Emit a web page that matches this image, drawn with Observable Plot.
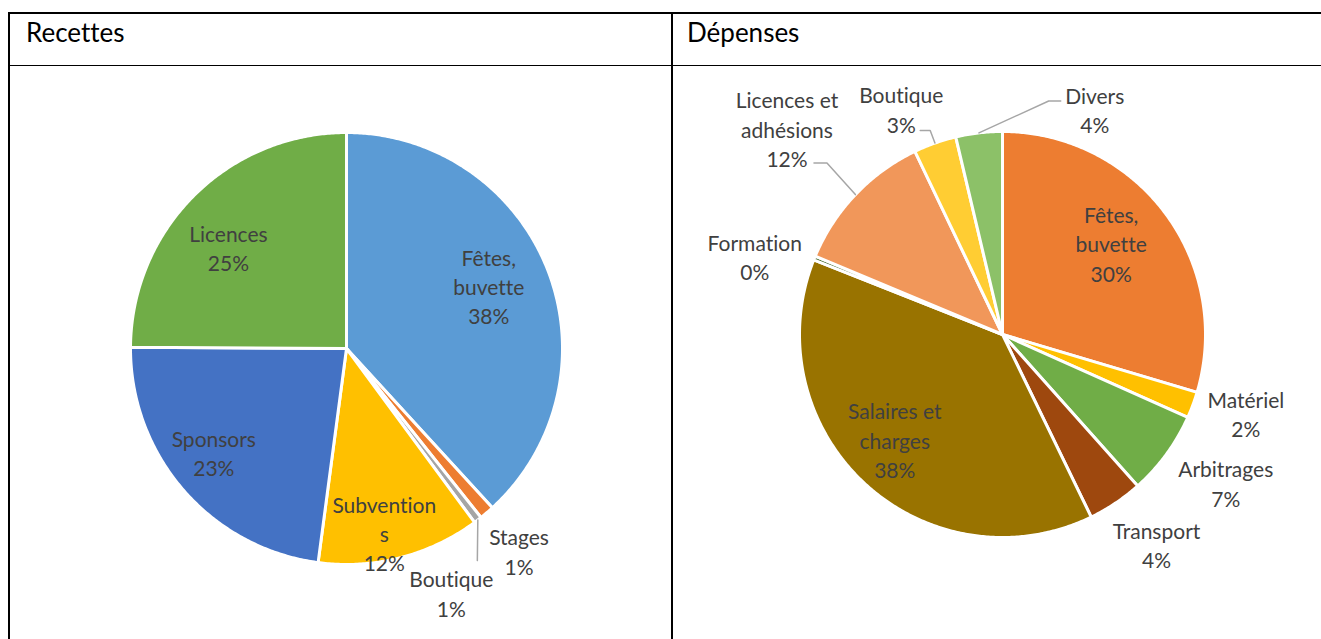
<!DOCTYPE html>
<html>
<head>
<meta charset="utf-8">
<script src="https://cdn.jsdelivr.net/npm/d3@7"></script>
<script src="https://cdn.jsdelivr.net/npm/@observablehq/plot@0.6"></script>
<style>
  html, body { margin: 0; padding: 0; background: #fff; }
  #page { position: relative; width: 1321px; height: 639px; overflow: hidden; background: #fff; font-family: Lato, sans-serif; }
  #page, #page * { font-variant-ligatures: none; font-feature-settings: "liga" 0, "clig" 0; }
  .line { position: absolute; background: #000; }
  .head { position: absolute; font-family: Lato, sans-serif; font-size: 26px; line-height: 26px; color: #000; white-space: nowrap; }
  .cell { position: absolute; }
</style>
</head>
<body>
<div id="page">
  <div class="line" style="left:8px; top:12px; width:1313px; height:2px;"></div>
  <div class="line" style="left:8px; top:65px; width:1313px; height:1px;"></div>
  <div class="line" style="left:8px; top:12px; width:2px; height:627px;"></div>
  <div class="line" style="left:671px; top:12px; width:2px; height:627px;"></div>
  <div class="head" style="left:26px; top:19px;">Recettes</div>
  <div class="head" style="left:687px; top:19px;">Dépenses</div>
  <div class="cell" id="rec" style="left:10px; top:66px;"></div>
  <div class="cell" id="dep" style="left:673px; top:66px;"></div>
</div>
<script>
// ---------- Data: Recettes ----------
const recCategories = ["Fêtes, buvette", "Stages", "Boutique", "Subventions", "Sponsors", "Licences"];
const recLabels = ["Fêtes,\nbuvette", "Stages", "Boutique", "Subvention\ns", "Sponsors", "Licences"];
const recValues = [38.2, 1.1, 0.6, 12.2, 23.0, 24.9];
const recColors = ["#5B9BD5", "#ED7D31", "#A5A5A5", "#FFC000", "#4472C4", "#70AD47"];

// ---------- Data: Dépenses ----------
const depCategories = ["Fêtes, buvette", "Matériel", "Arbitrages", "Transport", "Salaires et charges", "Formation", "Licences et adhésions", "Boutique", "Divers"];
const depLabels = ["Fêtes,\nbuvette", "Matériel", "Arbitrages", "Transport", "Salaires et\ncharges", "Formation", "Licences et\nadhésions", "Boutique", "Divers"];
const depValues = [29.6, 2.1, 6.7, 4.4, 38.2, 0.3, 11.6, 3.4, 3.7];
const depColors = ["#ED7D31", "#FFC000", "#70AD47", "#9E480E", "#997300", "#43682B", "#F1975A", "#FFCD33", "#8CC168"];

// ---------- Layout (label placement: radius factor, angle nudge in degrees) ----------
const recLayout = {
  width: 661, height: 573, cx: 336, cy: 282, R: 216,
  labelR: [0.72, 1.23, 1.23, 0.87, 0.78, 0.72],
  labelShift: [-2.6, 0, 14.2, 2.8, 3, -4.6],
  leaders: [{i: 2, elbow: [26, -32], end: [26, -32]}]
};
const depLayout = {
  width: 648, height: 573, cx: 329, cy: 268, R: 203,
  labelR: [0.70, 1.26, 1.32, 1.28, 0.74, 1.28, 1.47, 1.22, 1.20],
  labelShift: [-3.4, -2.4, -2.6, -2.5, 3, -4.6, 0.2, -4.7, 28.9],
  leaders: [
    {i: 6, elbow: [40, 35], end: [27, 35]},
    {i: 7, elbow: [29, 22], end: [19, 22]},
    {i: 8, elbow: [-46, -8], end: [-34, -8]}
  ]
};

const rad = d => d * Math.PI / 180;

function pie(categories, labels, values, colors, L) {
  const total = d3.sum(values);
  let acc = 0;
  const slices = categories.map((c, i) => {
    const a0 = acc / total * 360; acc += values[i]; const a1 = acc / total * 360;
    return {name: c, a0, a1, mid: (a0 + a1) / 2, pct: Math.round(values[i] / total * 100)};
  });
  const pts = [];
  for (const s of slices) {
    pts.push({name: s.name, x: 0, y: 0});
    const n = Math.max(2, Math.ceil((s.a1 - s.a0) / 0.5));
    for (let k = 0; k <= n; k++) {
      const a = rad(s.a0 + (s.a1 - s.a0) * k / n);
      pts.push({name: s.name, x: L.R * Math.sin(a), y: -L.R * Math.cos(a)});
    }
  }
  const labelData = slices.map((s, i) => {
    const a = rad(s.mid + L.labelShift[i]);
    const r = L.R * L.labelR[i];
    return {x: r * Math.sin(a), y: -r * Math.cos(a), text: labels[i] + "\n" + s.pct + "%"};
  });
  const leaderPts = [];
  L.leaders.forEach((ld, k) => {
    const s = slices[ld.i], a = rad(s.mid), lb = labelData[ld.i];
    leaderPts.push({k, x: L.R * Math.sin(a), y: -L.R * Math.cos(a)});
    leaderPts.push({k, x: lb.x + ld.elbow[0], y: lb.y + ld.elbow[1]});
    leaderPts.push({k, x: lb.x + ld.end[0], y: lb.y + ld.end[1]});
  });
  return Plot.plot({
    width: L.width, height: L.height, margin: 0,
    x: {domain: [-L.cx, L.width - L.cx], range: [0, L.width], axis: null},
    y: {domain: [-L.cy, L.height - L.cy], range: [0, L.height], axis: null},
    color: {domain: categories, range: colors},
    style: {fontFamily: "Lato, sans-serif", fontSize: "21px", background: "transparent", overflow: "visible"},
    marks: [
      Plot.line(pts, {x: "x", y: "y", z: "name", fill: "name", stroke: "white", strokeWidth: 3, curve: "linear-closed"}),
      Plot.line(leaderPts, {x: "x", y: "y", z: "k", stroke: "#A6A6A6", strokeWidth: 1.5}),
      Plot.text(labelData, {x: "x", y: "y", text: "text", fill: "#404040", fontSize: 21, lineHeight: 1.4, lineAnchor: "middle", textAnchor: "middle"})
    ]
  });
}

document.getElementById("rec").appendChild(pie(recCategories, recLabels, recValues, recColors, recLayout));
document.getElementById("dep").appendChild(pie(depCategories, depLabels, depValues, depColors, depLayout));
</script>
</body>
</html>
